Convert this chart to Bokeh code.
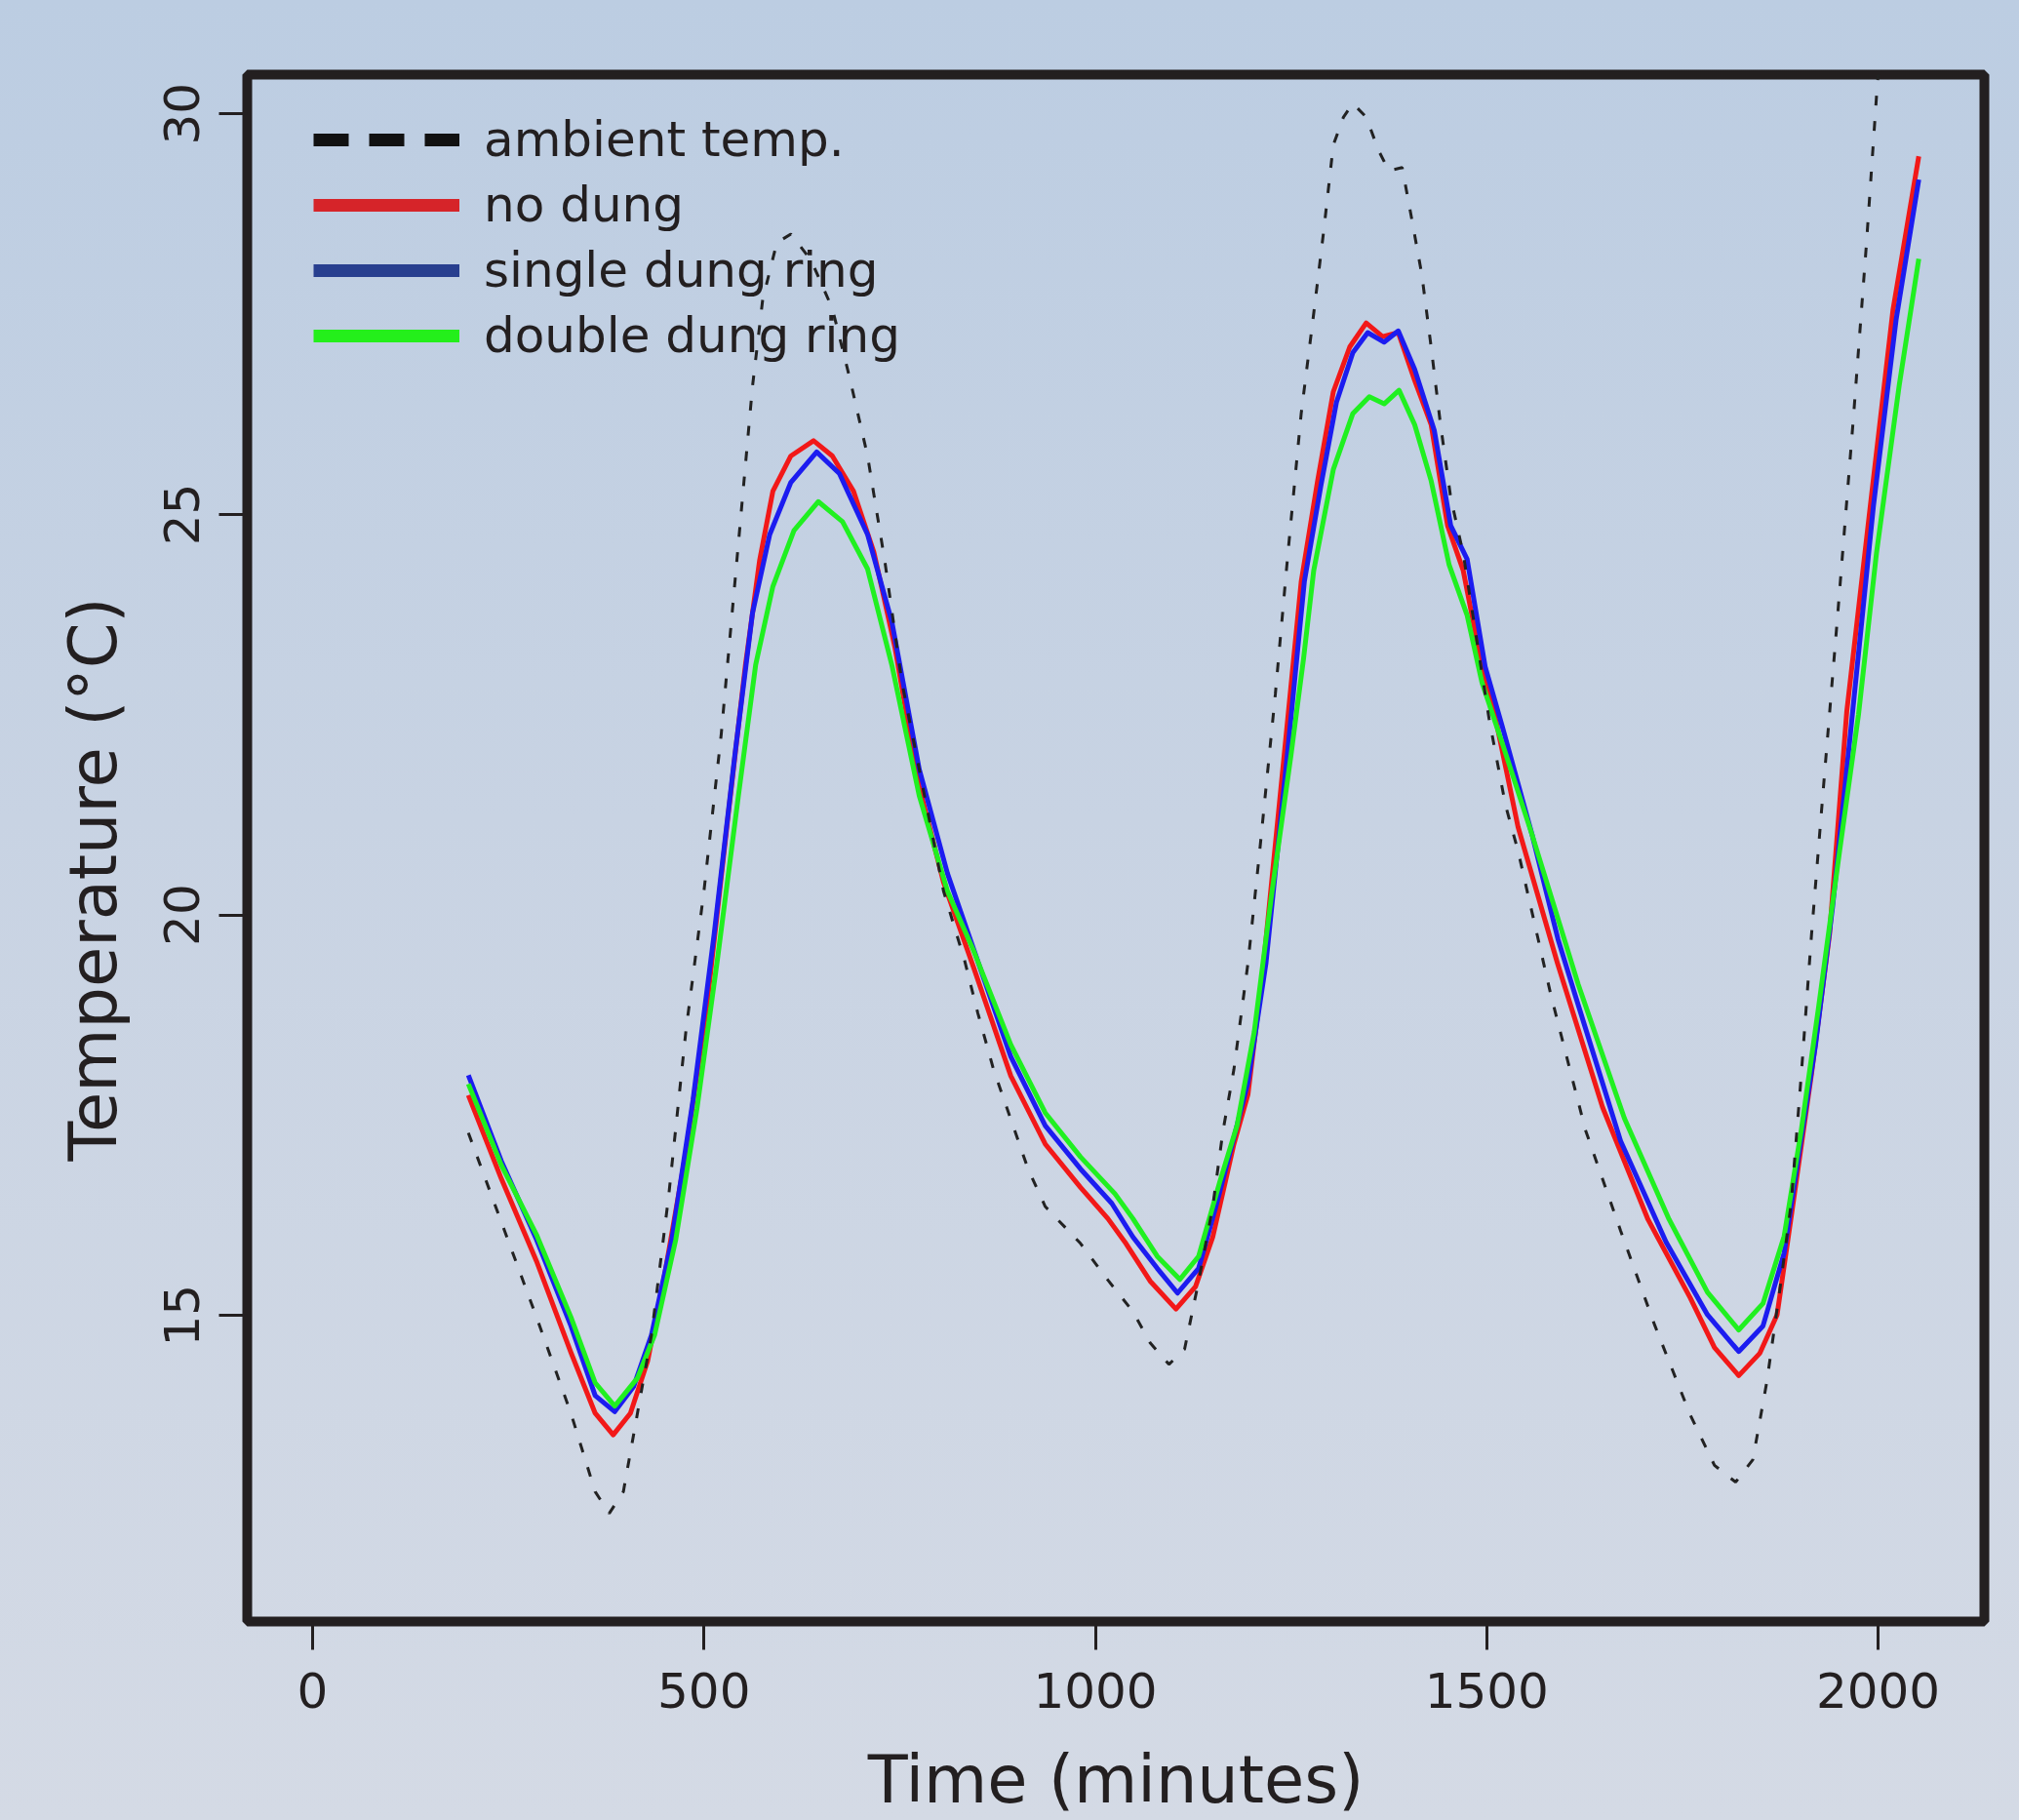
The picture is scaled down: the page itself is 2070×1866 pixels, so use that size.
from bokeh.plotting import figure
from bokeh.models import Range1d, Legend, LegendItem, FixedTicker
from bokeh.embed import file_html
from bokeh.resources import INLINE

# ---------------- data ----------------
x_ticks = [0, 500, 1000, 1500, 2000]
y_ticks = [15, 20, 25, 30]

amb_t = [199, 241, 286, 330, 361, 379, 397, 415, 433, 455, 477, 500, 522, 544, 562,
         575, 593, 611, 637, 664, 686, 709, 731, 753, 775, 806, 833, 850, 870, 892,
         914, 936, 981, 1017, 1048, 1070, 1094, 1114, 1132, 1150, 1163, 1177, 1195, 1210, 1230,
         1246, 1263, 1279, 1292, 1304, 1317, 1329, 1346, 1362, 1375, 1392, 1404, 1417, 1429, 1441,
         1454, 1470, 1503, 1524, 1540, 1582, 1626, 1671, 1715, 1760, 1791, 1818, 1840, 1858, 1875,
         1889, 1902, 1915, 1929, 1948, 1969, 1985, 1998, 2008]
amb_v = [17.28, 16.17, 14.98, 13.78, 12.80, 12.53, 12.80, 13.78, 14.76, 16.50, 18.56, 20.30, 22.25, 24.64, 26.60,
         27.68, 28.39, 28.50, 28.17, 27.57, 26.71, 25.73, 24.42, 22.90, 21.82, 20.30, 19.43, 18.77, 18.07, 17.45,
         16.83, 16.36, 15.90, 15.43, 15.05, 14.66, 14.39, 14.58, 15.43, 16.36, 17.30, 18.07, 19.40, 20.80, 22.76,
         24.51, 26.26, 27.51, 28.56, 29.61, 29.96, 30.13, 29.96, 29.54, 29.29, 29.33, 28.70, 28.00, 27.09, 26.12,
         25.21, 24.51, 22.45, 21.37, 20.80, 19.00, 17.32, 16.06, 14.87, 13.76, 13.13, 12.92, 13.20, 14.18, 15.36,
         16.40, 18.02, 19.76, 21.45, 23.70, 26.27, 28.36, 30.22, 31.50]

nd_t = [199, 241, 286, 330, 361, 384, 406, 428, 450, 477, 504, 530, 553, 571, 588,
        611, 640, 664, 691, 717, 744, 775, 806, 845, 892, 936, 981, 1016, 1039, 1070,
        1103, 1128, 1150, 1177, 1195, 1214, 1242, 1263, 1284, 1304, 1325, 1346, 1367, 1387, 1408,
        1429, 1450, 1470, 1491, 1512, 1540, 1590, 1648, 1706, 1760, 1791, 1822, 1849, 1871, 1890,
        1915, 1938, 1960, 1990, 2019, 2052]
nd_v = [17.75, 16.71, 15.68, 14.54, 13.78, 13.51, 13.78, 14.43, 15.52, 17.04, 18.89, 21.17, 23.12, 24.42, 25.29,
        25.73, 25.92, 25.73, 25.29, 24.53, 23.34, 21.60, 20.41, 19.33, 17.99, 17.14, 16.60, 16.21, 15.90, 15.43,
        15.08, 15.36, 15.98, 17.14, 17.76, 19.30, 22.07, 24.16, 25.42, 26.53, 27.09, 27.39, 27.22, 27.27, 26.67,
        26.12, 24.86, 24.30, 23.25, 22.42, 21.10, 19.41, 17.60, 16.20, 15.22, 14.60, 14.25, 14.53, 15.01, 16.30,
        18.02, 19.76, 22.54, 25.10, 27.55, 29.47]

sg_t = [199, 241, 286, 330, 361, 386, 410, 433, 459, 486, 513, 540, 562, 584, 611,
        644, 673, 709, 740, 775, 811, 845, 892, 936, 981, 1021, 1048, 1079, 1105, 1132,
        1154, 1177, 1195, 1218, 1246, 1267, 1288, 1308, 1329, 1348, 1369, 1387, 1408, 1433, 1454,
        1475, 1498, 1520, 1558, 1591, 1613, 1671, 1729, 1782, 1822, 1853, 1880, 1898, 1920, 1942,
        1964, 1994, 2023, 2052]
sg_v = [18.00, 16.93, 15.95, 14.87, 14.00, 13.80, 14.11, 14.76, 15.95, 17.69, 19.76, 22.04, 23.77, 24.75, 25.40,
        25.78, 25.51, 24.75, 23.66, 21.82, 20.52, 19.56, 18.23, 17.37, 16.83, 16.40, 15.98, 15.59, 15.28, 15.59,
        16.36, 17.22, 17.91, 19.40, 22.07, 24.16, 25.35, 26.40, 27.02, 27.27, 27.15, 27.29, 26.81, 26.05, 24.86,
        24.44, 23.10, 22.35, 21.00, 19.70, 19.00, 17.18, 15.92, 15.01, 14.55, 14.87, 15.78, 16.97, 18.37, 20.11,
        22.20, 25.10, 27.43, 29.18]

db_t = [199, 241, 286, 330, 361, 386, 415, 437, 464, 491, 517, 544, 566, 588, 615,
        646, 677, 709, 740, 775, 811, 845, 892, 936, 981, 1025, 1048, 1079, 1108, 1132,
        1159, 1181, 1203, 1225, 1250, 1266, 1279, 1304, 1329, 1350, 1369, 1388, 1408, 1429, 1452,
        1475, 1494, 1520, 1558, 1617, 1676, 1733, 1782, 1822, 1853, 1880, 1902, 1924, 1951, 1975,
        1998, 2027, 2052]
db_v = [17.89, 16.88, 16.01, 14.98, 14.16, 13.87, 14.22, 14.76, 15.95, 17.58, 19.43, 21.49, 23.12, 24.10, 24.80,
        25.16, 24.91, 24.32, 23.12, 21.49, 20.30, 19.54, 18.38, 17.53, 16.98, 16.52, 16.21, 15.74, 15.45, 15.74,
        16.67, 17.37, 18.54, 20.24, 22.00, 23.20, 24.30, 25.56, 26.26, 26.47, 26.38, 26.55, 26.12, 25.42, 24.37,
        23.74, 22.90, 22.14, 21.00, 19.13, 17.46, 16.20, 15.29, 14.82, 15.15, 15.99, 17.32, 18.85, 20.81, 22.50,
        24.52, 26.61, 28.19]

legend_labels = ["ambient temp.", "no dung", "single dung ring", "double dung ring"]

# ---------------- styling ----------------
INK = "#231f20"
FONT = "DejaVu Sans"
RED, BLUE, GREEN = "#f21818", "#1c1cf0", "#20f020"
LEG_COLORS = ["#111111", "#d62429", "#283f8f", "#24ef1b"]
NAN = float("nan")

p = figure(width=2070, height=1866, output_backend="svg", toolbar_location=None,
           x_range=Range1d(-83.5, 2135.8), y_range=Range1d(11.18, 30.49),
           min_border_left=253, min_border_right=36, min_border_top=76, min_border_bottom=202)

p.styles = {"background": "linear-gradient(180deg, #bccde2 0%, #c8d3e3 45%, #d4dae5 100%)"}
p.border_fill_color = None
p.background_fill_color = None
p.grid.visible = False
p.outline_line_color = INK
p.outline_line_width = 10

for ax in (p.xaxis[0], p.yaxis[0]):
    ax.axis_line_color = None
    ax.major_tick_in = 0
    ax.major_tick_out = 29
    ax.major_tick_line_width = 3
    ax.major_tick_line_color = INK
    ax.minor_tick_line_color = None
    ax.major_label_text_font = FONT
    ax.major_label_text_font_size = "50px"
    ax.major_label_text_color = INK
    ax.axis_label_text_font = FONT
    ax.axis_label_text_font_size = "67px"
    ax.axis_label_text_font_style = "normal"
    ax.axis_label_text_color = INK

p.xaxis.ticker = FixedTicker(ticks=x_ticks)
p.yaxis.ticker = FixedTicker(ticks=y_ticks)
p.xaxis.major_label_standoff = 23
p.yaxis.major_label_standoff = 20
p.yaxis.major_label_orientation = "vertical"

p.xaxis.axis_label = "Time (minutes)"
p.xaxis.axis_label_standoff = 32
# trailing no-break spaces shift the rotated title slightly downward, as in the reference
p.yaxis.axis_label = "Temperature (°C)\u00a0\u00a0\u00a0"
p.yaxis.axis_label_standoff = 31

# ---------------- data lines ----------------
p.line(nd_t, nd_v, line_color=RED, line_width=5, line_join="round")
p.line(sg_t, sg_v, line_color=BLUE, line_width=5, line_join="round")
p.line(db_t, db_v, line_color=GREEN, line_width=5, line_join="round")
p.line(amb_t, amb_v, line_color="#222222", line_width=3, line_dash="10 16")

# ---------------- legend (thick sample lines) ----------------
items = []
dashes = ["36 21", "solid", "solid", "solid"]
for lab, col, d in zip(legend_labels, LEG_COLORS, dashes):
    r = p.line(x=[NAN], y=[NAN], line_color=col, line_width=13, line_dash=d, line_cap="butt")
    items.append(LegendItem(label=lab, renderers=[r]))

legend = Legend(items=items, location=(58, 1279), margin=0, padding=10, spacing=9,
                glyph_width=150, glyph_height=58, label_height=58, label_standoff=25,
                label_text_font=FONT, label_text_font_size="50px", label_text_color=INK,
                background_fill_alpha=0, border_line_alpha=0)
p.add_layout(legend)

open("out.html", "w").write(file_html(p, INLINE))
